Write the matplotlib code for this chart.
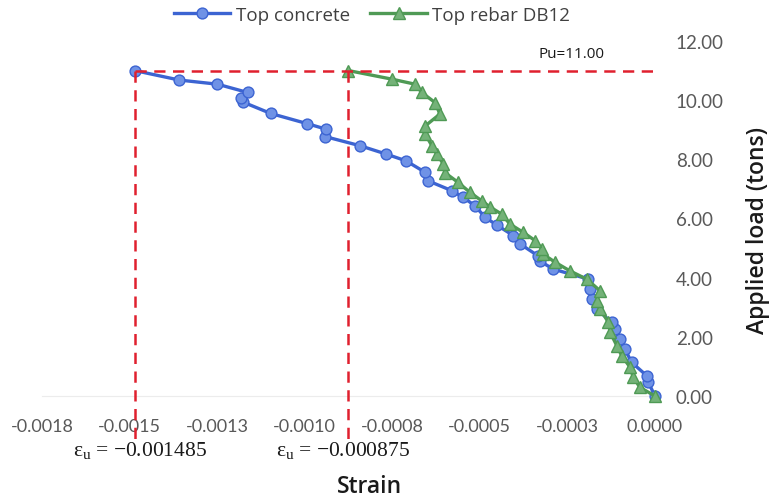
import matplotlib
matplotlib.use("Agg")
import matplotlib.pyplot as plt
from matplotlib.lines import Line2D

# Strain readings (negative = compression) and applied load (tons)
concrete_strain = [0.0, -0.000019, -0.000024, -0.000067, -0.000086, -0.000100,
                   -0.000114, -0.000124, -0.000166, -0.000181, -0.000185, -0.000190,
                   -0.000291, -0.000328, -0.000333, -0.000385, -0.000404, -0.000452,
                   -0.000485, -0.000514, -0.000547, -0.000580, -0.000647, -0.000656,
                   -0.000711, -0.000768, -0.000842, -0.000942, -0.000939, -0.000994,
                   -0.001097, -0.001175, -0.001183, -0.001163, -0.001249, -0.001358,
                   -0.001485]
concrete_load = [0.0, 0.46, 0.69, 1.14, 1.59, 1.93,
                 2.26, 2.49, 2.94, 3.28, 3.61, 3.95,
                 4.29, 4.56, 4.73, 5.14, 5.42, 5.78,
                 6.04, 6.43, 6.71, 6.94, 7.27, 7.56,
                 7.95, 8.18, 8.46, 8.77, 9.02, 9.21,
                 9.55, 9.93, 10.08, 10.26, 10.54, 10.68,
                 11.00]

rebar_strain = [0.0, -0.000043, -0.000062, -0.000071, -0.000095, -0.000109,
                -0.000128, -0.000133, -0.000157, -0.000166, -0.000157, -0.000195,
                -0.000243, -0.000285, -0.000320, -0.000323, -0.000342, -0.000376,
                -0.000414, -0.000438, -0.000471, -0.000495, -0.000528, -0.000562,
                -0.000600, -0.000604, -0.000623, -0.000637, -0.000656, -0.000656,
                -0.000614, -0.000628, -0.000666, -0.000685, -0.000751, -0.000875]
rebar_load = [0.0, 0.29, 0.63, 0.97, 1.36, 1.70,
              2.15, 2.49, 2.94, 3.22, 3.56, 3.95,
              4.23, 4.52, 4.80, 4.97, 5.25, 5.53,
              5.81, 6.15, 6.39, 6.60, 6.88, 7.22,
              7.55, 7.84, 8.18, 8.46, 8.85, 9.13,
              9.53, 9.92, 10.26, 10.54, 10.71, 11.00]

ultimate_load = 11.00
ultimate_strain_concrete = -0.001485
ultimate_strain_rebar = -0.000875

x_ticks = [-0.00175, -0.0015, -0.00125, -0.001, -0.00075, -0.0005, -0.00025, 0.0]
x_tick_labels = ["-0.0018", "-0.0015", "-0.0013", "-0.0010", "-0.0008",
                 "-0.0005", "-0.0003", "0.0000"]
y_ticks = [0, 2, 4, 6, 8, 10, 12]
y_tick_labels = ["0.00", "2.00", "4.00", "6.00", "8.00", "10.00", "12.00"]

fig = plt.figure(figsize=(7.77, 5.02), dpi=100)
ax = fig.add_axes([42 / 777, 1 - 397 / 502, (655 - 42) / 777, (397 - 42) / 502])

blue_line = "#3c64d2"
blue_face = "#6f92e6"
green_line = "#4f9a55"
green_face = "#74b278"
tick_color = "#595959"

ax.plot(concrete_strain, concrete_load, color=blue_line, lw=2.4, marker="o",
        ms=7.8, mfc=blue_face, mec=blue_line, mew=1.0, zorder=3,
        label="Top concrete", clip_on=False)
ax.plot(rebar_strain, rebar_load, color=green_line, lw=2.4, marker="^",
        ms=8.3, mfc=green_face, mec=green_line, mew=1.0, zorder=4,
        label="Top rebar DB12", clip_on=False)

# Ultimate load and ultimate strain guide lines
red = "#e0202e"
dash = (0, (4.5, 3))
ax.plot([ultimate_strain_concrete, 0.0], [ultimate_load, ultimate_load],
        color=red, lw=1.8, ls=dash, zorder=5, clip_on=False)
ax.plot([ultimate_strain_concrete, ultimate_strain_concrete], [ultimate_load, -1.45],
        color=red, lw=1.8, ls=dash, zorder=5, clip_on=False)
ax.plot([ultimate_strain_rebar, ultimate_strain_rebar], [ultimate_load, -1.62],
        color=red, lw=1.8, ls=dash, zorder=5, clip_on=False)

ax.text(-0.000237, 11.58, f"Pu={ultimate_load:.2f}", fontsize=11,
        family="Open Sans", color="#1a1a1a", ha="center", va="center")
serif = ["Liberation Serif", "DejaVu Serif"]
ax.text(-0.001470, -1.80,
        r"$\mathregular{\varepsilon_u}$" + f" = \u2212{abs(ultimate_strain_concrete):.6f}",
        fontsize=15.5, family=serif, color="#1a1a1a", ha="center", va="center")
ax.text(-0.000890, -1.80,
        r"$\mathregular{\varepsilon_u}$" + f" = \u2212{abs(ultimate_strain_rebar):.6f}",
        fontsize=15.5, family=serif, color="#1a1a1a", ha="center", va="center")

ax.set_xlim(-0.00175, 0.0)
ax.set_ylim(0, 12)
ax.set_xticks(x_ticks)
ax.set_xticklabels(x_tick_labels, family="Lato", fontsize=13, color=tick_color)
ax.yaxis.tick_right()
ax.set_yticks(y_ticks)
ax.set_yticklabels(y_tick_labels, family="Lato", fontsize=13.5, color=tick_color,
                   ha="left")
ax.tick_params(axis="x", length=0, pad=16)
ax.tick_params(axis="y", length=0, pad=15)
for side in ("top", "left", "right"):
    ax.spines[side].set_visible(False)
ax.spines["bottom"].set_color("#ececec")
ax.spines["bottom"].set_linewidth(0.8)

fig.text(370 / 777, 1 - 487 / 502, "Strain", family="Open Sans", weight="semibold",
         fontsize=16.5, color="#1a1a1a", ha="center", va="center")
fig.text(758 / 777, 1 - 230 / 502, "Applied load (tons)", family="Open Sans",
         weight="semibold", fontsize=16.5, color="#1a1a1a", ha="center",
         va="center", rotation=90)

handles = [
    Line2D([], [], color=blue_line, lw=2.4, marker="o", ms=7.8, mfc=blue_face,
           mec=blue_line),
    Line2D([], [], color=green_line, lw=2.4, marker="^", ms=8.3, mfc=green_face,
           mec=green_line),
]
fig.legend(handles, ["Top concrete", "Top rebar DB12"], loc="center",
           bbox_to_anchor=(372 / 777, 1 - 16 / 502), ncol=2, frameon=False,
           prop={"family": "Open Sans", "size": 13.5}, handlelength=3.0,
           handletextpad=0.3, columnspacing=1.1, labelcolor="#404040")

fig.savefig("out.png", dpi=100, facecolor="white")
